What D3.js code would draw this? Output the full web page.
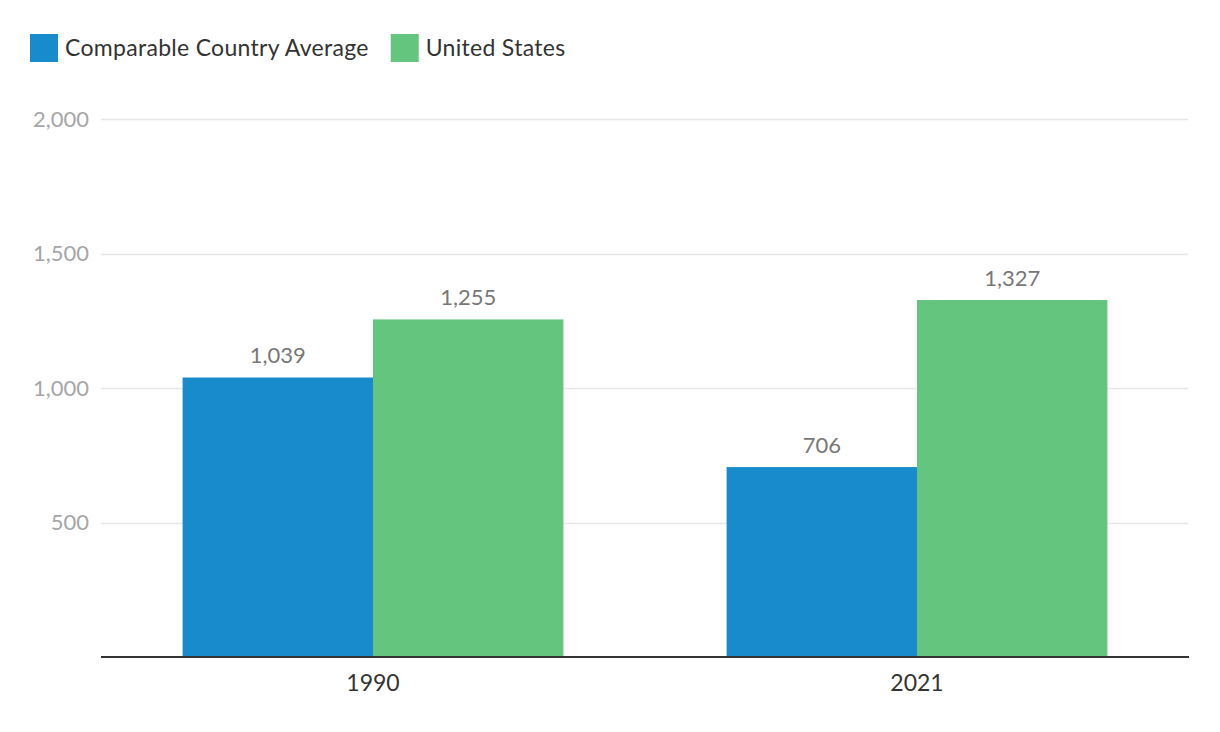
<!DOCTYPE html>
<html><head><meta charset="utf-8">
<script src="https://cdn.jsdelivr.net/npm/d3@7"></script>
<style>body{margin:0;background:#fff;font-family:Lato,"Open Sans",sans-serif;}</style>
</head><body>
<svg id="c" width="1220" height="732"></svg>
<script>
const categories = ["1990", "2021"];
const seriesNames = ["Comparable Country Average", "United States"];
const comparableAvg = [1039, 706];
const unitedStates = [1255, 1327];
const yTicks = [500, 1000, 1500, 2000];
const colors = ["#178bcb", "#64c67e"];

const svg = d3.select("#c");
const margin = {left: 101, right: 31, top: 119, bottom: 75};
const W = 1220, H = 732;
const x = d3.scaleBand().domain(categories).range([margin.left, W - margin.right]).paddingInner(0.3).paddingOuter(0.15);
const x1 = d3.scaleBand().domain(seriesNames).range([0, x.bandwidth()]);
const y = d3.scaleLinear().domain([0, 2000]).range([H - margin.bottom, margin.top]);

// gridlines
svg.append("g").selectAll("line").data(yTicks).join("line")
  .attr("x1", margin.left).attr("x2", W - margin.right - 1)
  .attr("y1", d => Math.round(y(d)) + 0.5).attr("y2", d => Math.round(y(d)) + 0.5)
  .attr("stroke", "#e6e6e6").attr("stroke-width", 1.5);

// y tick labels
svg.append("g").selectAll("text").data(yTicks).join("text")
  .attr("x", 89).attr("y", d => y(d)).attr("dy", "0.35em")
  .attr("text-anchor", "end").attr("fill", "#a6a6a6")
  .style("font-size", "22px").text(d => d3.format(",")(d));

const data = categories.map((c, i) => ({cat: c, vals: [comparableAvg[i], unitedStates[i]]}));
const g = svg.append("g").selectAll("g").data(data).join("g")
  .attr("transform", d => `translate(${x(d.cat)},0)`);
g.selectAll("rect").data(d => d.vals.map((v, j) => ({v, s: seriesNames[j], j}))).join("rect")
  .attr("x", d => x1(d.s)).attr("width", x1.bandwidth())
  .attr("y", d => y(d.v)).attr("height", d => y(0) - y(d.v))
  .attr("fill", d => colors[d.j]);
g.selectAll("text").data(d => d.vals.map((v, j) => ({v, s: seriesNames[j], j}))).join("text")
  .attr("x", d => x1(d.s) + x1.bandwidth() / 2).attr("y", d => y(d.v) - 14.5)
  .attr("text-anchor", "middle").attr("fill", "#777")
  .style("font-size", "22px").text(d => d3.format(",")(d.v));

// baseline
svg.append("line").attr("x1", margin.left).attr("x2", W - margin.right)
  .attr("y1", y(0)).attr("y2", y(0)).attr("stroke", "#333").attr("stroke-width", 2);

// x axis labels
svg.append("g").selectAll("text").data(categories).join("text")
  .attr("x", d => x(d) + x.bandwidth() / 2).attr("y", 691)
  .attr("text-anchor", "middle").attr("fill", "#333")
  .style("font-size", "23px").text(d => d);

// legend
const leg = svg.append("g");
let lx = 30;
seriesNames.forEach((s, i) => {
  leg.append("rect").attr("x", lx).attr("y", 34).attr("width", 28).attr("height", 28).attr("fill", colors[i]);
  const t = leg.append("text").attr("x", lx + 35).attr("y", 56)
    .attr("fill", "#333").style("font-size", "23px").style("letter-spacing", "0.3px").text(s);
  lx += 35 + t.node().getComputedTextLength() + 22;
});
</script>
</body></html>
